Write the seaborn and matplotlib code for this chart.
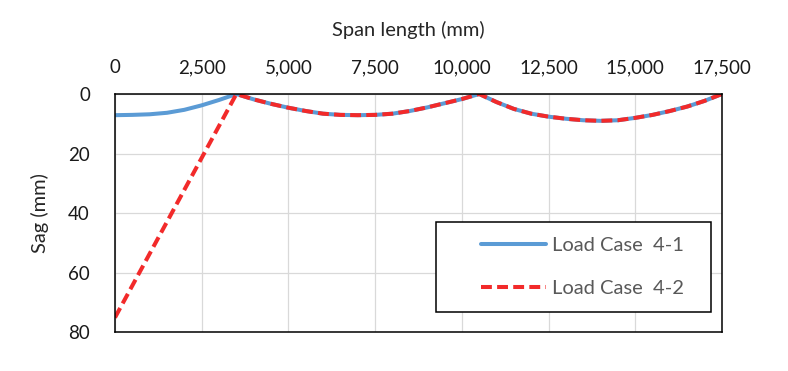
import pandas as pd
import matplotlib.pyplot as plt
import matplotlib.patches as mpatches
import seaborn as sns

#
# Sag along the span
#

span_41 = [0, 500, 1000, 1500, 2000, 2500, 3000, 3500,
           4000, 4500, 5000, 5500, 6000, 6500, 7000, 7500, 8000, 8500,
           9000, 9500, 10000, 10500,
           11000, 11500, 12000, 12500, 13000, 13500, 14000, 14500, 15000,
           15500, 16000, 16500, 17000, 17500]
sag_41 = [7.1, 7.0, 6.8, 6.3, 5.3, 3.8, 2.0, 0.0,
          1.8, 3.3, 4.6, 5.7, 6.6, 7.0, 7.1, 7.0, 6.6, 5.7,
          4.5, 3.1, 1.7, 0.0,
          2.7, 5.0, 6.6, 7.6, 8.3, 8.8, 9.0, 8.8, 8.0,
          7.0, 5.7, 4.2, 2.3, 0.0]

span_42 = [0, 3500,
           4000, 4500, 5000, 5500, 6000, 6500, 7000, 7500, 8000, 8500,
           9000, 9500, 10000, 10500,
           11000, 11500, 12000, 12500, 13000, 13500, 14000, 14500, 15000,
           15500, 16000, 16500, 17000, 17500]
sag_42 = [75.0, 0.0,
          1.8, 3.3, 4.6, 5.7, 6.6, 7.0, 7.1, 7.0, 6.6, 5.7,
          4.5, 3.1, 1.7, 0.0,
          2.7, 5.0, 6.6, 7.6, 8.3, 8.8, 9.0, 8.8, 8.0,
          7.0, 5.7, 4.2, 2.3, 0.0]

case_names = ["Load Case  4-1", "Load Case  4-2"]
x_ticks = [0, 2500, 5000, 7500, 10000, 12500, 15000, 17500]
y_ticks = [0, 20, 40, 60, 80]

df = pd.concat([
    pd.DataFrame({"span": span_41, "sag": sag_41, "case": case_names[0]}),
    pd.DataFrame({"span": span_42, "sag": sag_42, "case": case_names[1]}),
])

#%%
sns.set_style("white")
plt.rcParams["font.family"] = ["Lato", "DejaVu Sans"]

fig = plt.figure(figsize=(7.88, 3.71), dpi=100)
ax1 = fig.add_axes([0.1459, 0.1038, 0.7703, 0.6428])

sns.lineplot(data=df, x="span", y="sag", hue="case", style="case",
             palette=["#5B9BD5", "#F22A2A"],
             dashes=["", (2.7, 1.3)], linewidth=2.9,
             estimator=None, sort=True, ax=ax1)

ax1.set_xlim(0, 17500)
ax1.set_ylim(80, 0)
ax1.set_xticks(x_ticks)
ax1.set_xticklabels([f"{v:,}" for v in x_ticks])
ax1.set_yticks(y_ticks)
ax1.xaxis.tick_top()
ax1.xaxis.set_label_position("top")
ax1.tick_params(axis="x", length=0, pad=13, labelsize=13.5, labelcolor="#1a1a1a")
ax1.tick_params(axis="y", length=0, pad=18, labelsize=13.5, labelcolor="#1a1a1a")
ax1.grid(True, color="#D9D9D9", linewidth=0.9)
ax1.set_axisbelow(True)
for sp in ax1.spines.values():
    sp.set_visible(True)
    sp.set_color("black")
    sp.set_linewidth(1.1)

ax1.set_xlabel("Span length (mm)", fontsize=14.5, va="center")
ax1.xaxis.set_label_coords(0.4827, 1.268)
ax1.set_ylabel("Sag (mm)", fontsize=14.5, va="center", ha="center")
ax1.yaxis.set_label_coords(-0.1236, 0.5)

# legend box like the Excel one
frame = mpatches.Rectangle((0.5288, 0.087), 0.453, 0.378, transform=ax1.transAxes,
                           facecolor="white", edgecolor="black", linewidth=1.1, zorder=5)
ax1.add_patch(frame)
leg = ax1.legend(loc="center", bbox_to_anchor=(0.5438, 0.087, 0.453, 0.378),
                 frameon=False, fontsize=14.5, handlelength=3.2, handletextpad=0.3,
                 labelspacing=1.3, title=None)
leg.set_zorder(6)
for t in leg.get_texts():
    t.set_color("#595959")

fig.savefig("out.png", dpi=100)
